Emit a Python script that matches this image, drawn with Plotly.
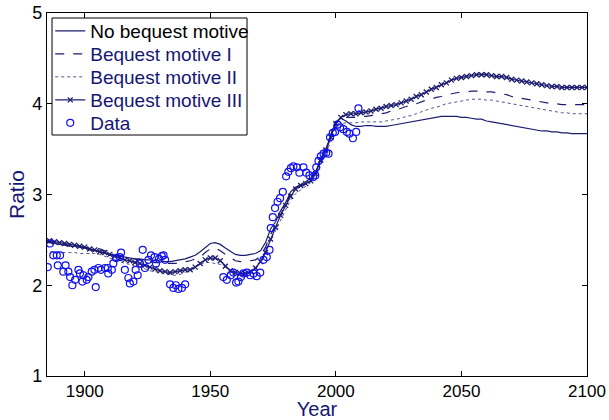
import plotly.graph_objects as go

# Model years (2-year steps)
years = list(range(1884, 2101, 2))

no_bequest = [2.47, 2.47, 2.46, 2.45, 2.44, 2.43, 2.43, 2.42, 2.41, 2.39,
              2.38, 2.37, 2.35, 2.34, 2.33, 2.32, 2.31, 2.30, 2.29, 2.29,
              2.28, 2.28, 2.27, 2.27, 2.26, 2.26, 2.27, 2.28, 2.29, 2.31,
              2.33, 2.37, 2.42, 2.46, 2.47, 2.45, 2.41, 2.37, 2.34, 2.33,
              2.33, 2.34, 2.35, 2.38, 2.47, 2.62, 2.70, 2.82, 2.91, 3.03,
              3.08, 3.11, 3.14, 3.18, 3.25, 3.40, 3.50, 3.65, 3.80, 3.84,
              3.81, 3.77, 3.75, 3.75, 3.76, 3.76, 3.75, 3.75, 3.75, 3.76,
              3.77, 3.78, 3.79, 3.80, 3.81, 3.82, 3.83, 3.84, 3.85, 3.86,
              3.86, 3.86, 3.86, 3.85, 3.85, 3.84, 3.83, 3.83, 3.81, 3.80,
              3.79, 3.78, 3.77, 3.76, 3.75, 3.74, 3.73, 3.72, 3.71, 3.70,
              3.70, 3.69, 3.69, 3.68, 3.68, 3.67, 3.67, 3.67, 3.67]

bequest_1 = [2.48, 2.48, 2.47, 2.46, 2.45, 2.44, 2.43, 2.42, 2.42, 2.41,
             2.41, 2.40, 2.38, 2.36, 2.34, 2.33, 2.31, 2.30, 2.29, 2.28,
             2.27, 2.26, 2.25, 2.25, 2.24, 2.24, 2.24, 2.25, 2.26, 2.27,
             2.29, 2.31, 2.36, 2.40, 2.41, 2.38, 2.34, 2.30, 2.27, 2.26,
             2.26, 2.27, 2.28, 2.32, 2.42, 2.56, 2.66, 2.78, 2.89, 3.00,
             3.06, 3.09, 3.12, 3.16, 3.24, 3.38, 3.48, 3.63, 3.78, 3.84,
             3.85, 3.85, 3.85, 3.86, 3.86, 3.87, 3.88, 3.89, 3.90, 3.92,
             3.93, 3.95, 3.97, 3.98, 4.00, 4.02, 4.04, 4.05, 4.07, 4.08,
             4.10, 4.11, 4.12, 4.13, 4.13, 4.14, 4.14, 4.14, 4.13, 4.13,
             4.12, 4.11, 4.10, 4.08, 4.07, 4.06, 4.05, 4.04, 4.03, 4.02,
             4.01, 4.00, 4.00, 3.99, 3.99, 3.99, 3.99, 3.99, 3.99]

bequest_2 = [2.37, 2.37, 2.37, 2.36, 2.36, 2.36, 2.36, 2.35, 2.35, 2.35,
             2.35, 2.34, 2.32, 2.30, 2.28, 2.26, 2.24, 2.23, 2.21, 2.20,
             2.18, 2.16, 2.15, 2.14, 2.13, 2.12, 2.11, 2.12, 2.14, 2.17,
             2.20, 2.23, 2.25, 2.25, 2.24, 2.23, 2.20, 2.15, 2.12, 2.11,
             2.12, 2.14, 2.17, 2.26, 2.38, 2.50, 2.60, 2.72, 2.83, 2.94,
             3.01, 3.05, 3.09, 3.13, 3.20, 3.33, 3.44, 3.58, 3.73, 3.78,
             3.79, 3.79, 3.79, 3.80, 3.80, 3.80, 3.80, 3.80, 3.81, 3.82,
             3.83, 3.84, 3.86, 3.87, 3.89, 3.91, 3.93, 3.95, 3.96, 3.98,
             4.00, 4.01, 4.02, 4.03, 4.04, 4.05, 4.05, 4.05, 4.04, 4.04,
             4.03, 4.02, 4.01, 4.00, 3.99, 3.98, 3.97, 3.96, 3.95, 3.94,
             3.93, 3.92, 3.91, 3.90, 3.90, 3.89, 3.89, 3.89, 3.89]

bequest_3 = [2.49, 2.49, 2.48, 2.47, 2.46, 2.45, 2.44, 2.43, 2.42, 2.40,
             2.39, 2.37, 2.36, 2.34, 2.32, 2.30, 2.28, 2.27, 2.25, 2.24,
             2.22, 2.20, 2.18, 2.16, 2.15, 2.14, 2.15, 2.16, 2.17, 2.17,
             2.20, 2.24, 2.28, 2.30, 2.30, 2.27, 2.21, 2.16, 2.14, 2.13,
             2.13, 2.15, 2.19, 2.26, 2.36, 2.51, 2.64, 2.77, 2.88, 2.98,
             3.06, 3.10, 3.12, 3.15, 3.23, 3.38, 3.49, 3.63, 3.78, 3.85,
             3.88, 3.89, 3.89, 3.90, 3.91, 3.92, 3.94, 3.95, 3.97, 3.98,
             3.99, 4.01, 4.03, 4.05, 4.08, 4.10, 4.13, 4.16, 4.18, 4.21,
             4.23, 4.26, 4.28, 4.29, 4.30, 4.31, 4.32, 4.32, 4.32, 4.31,
             4.30, 4.30, 4.29, 4.27, 4.26, 4.25, 4.24, 4.23, 4.22, 4.21,
             4.20, 4.19, 4.19, 4.18, 4.18, 4.18, 4.18, 4.18, 4.18]

data_years = [1885.3, 1886.2, 1887.5, 1888.9, 1889.3, 1890.2, 1891.5, 1892.4,
              1893.5, 1894.2, 1895.1, 1896.2, 1897.5, 1898.1, 1899.1, 1899.5,
              1900.8, 1901.5, 1902.8, 1903.9, 1904.4, 1905.5, 1906.5, 1908.1,
              1909.2, 1909.4, 1910.8, 1911.4, 1912.5, 1914.0, 1914.5, 1916.0,
              1917.4, 1918.0, 1919.4, 1920.3, 1921.1, 1922.0, 1923.1, 1924.0,
              1925.4, 1926.4, 1927.8, 1928.4, 1929.6, 1930.7, 1931.4, 1932.0,
              1934.0, 1935.3, 1936.3, 1937.3, 1938.7, 1940.0,
              1955.2, 1956.6, 1958.2, 1959.2, 1960.3, 1961.2, 1962.2, 1963.2,
              1964.6, 1965.9, 1967.2, 1968.5, 1969.9, 1971.2, 1972.5, 1973.6,
              1974.1, 1974.9, 1975.8, 1976.8, 1977.8, 1978.9, 1980.2, 1981.1,
              1982.1, 1983.1, 1984.5, 1985.5, 1987.1, 1988.2, 1989.5, 1990.9,
              1991.8, 1992.2, 1993.1, 1994.0, 1995.1, 1996.2, 1997.1, 1997.7,
              1998.8, 1999.7, 2000.7, 2001.7, 2003.0, 2004.4, 2005.4, 2006.8,
              2008.1, 2009.0]
data_values = [2.20, 2.46, 2.33, 2.33, 2.22, 2.33, 2.15, 2.22,
               2.15, 2.09, 2.00, 2.06, 2.17, 2.13, 2.04, 2.11,
               2.06, 2.09, 2.15, 2.17, 1.98, 2.19, 2.17, 2.19,
               2.19, 2.13, 2.17, 2.24, 2.30, 2.31, 2.36, 2.17,
               2.08, 2.02, 2.04, 2.17, 2.11, 2.24, 2.39, 2.19,
               2.28, 2.33, 2.31, 2.24, 2.29, 2.32, 2.33, 2.28,
               2.01, 1.97, 2.00, 1.96, 1.97, 2.01,
               2.09, 2.06, 2.11, 2.14, 2.03, 2.04, 2.09, 2.13,
               2.14, 2.11, 2.13, 2.10, 2.14, 2.28, 2.31, 2.39,
               2.63, 2.75, 2.85, 2.92, 2.96, 3.03, 3.20, 3.25,
               3.29, 3.31, 3.30, 3.24, 3.30, 3.24, 3.21, 3.19,
               3.21, 3.30, 3.37, 3.42, 3.45, 3.46, 3.45, 3.63,
               3.68, 3.69, 3.77, 3.74, 3.72, 3.69, 3.67, 3.62,
               3.69, 3.95]

series_names = ["No bequest motive", "Bequest motive I", "Bequest motive II",
                "Bequest motive III", "Data"]
x_ticks = [1900, 1950, 2000, 2050, 2100]
y_ticks = [1, 2, 3, 4, 5]

NAVY = "#161673"
LINE = "#1c1c6e"
FONT = "Liberation Sans, Arial, sans-serif"

fig = go.Figure()
fig.add_trace(go.Scatter(x=years, y=no_bequest, mode="lines",
                         name=series_names[0], legend="legend",
                         line=dict(color=LINE, width=1.2)))
fig.add_trace(go.Scatter(x=years, y=bequest_1, mode="lines",
                         name=series_names[1], legend="legend2",
                         line=dict(color=LINE, width=1.2, dash="dash")))
fig.add_trace(go.Scatter(x=years, y=bequest_2, mode="lines",
                         name=series_names[2], legend="legend3",
                         line=dict(color="#55558f", width=1, dash="dot")))
fig.add_trace(go.Scatter(x=years, y=bequest_3, mode="lines+markers",
                         name=series_names[3], legend="legend4",
                         line=dict(color=LINE, width=1.2),
                         marker=dict(symbol="x-thin", size=5, color=LINE,
                                     line=dict(color=LINE, width=1.3))))
fig.add_trace(go.Scatter(x=data_years, y=data_values, mode="markers",
                         name=series_names[4], legend="legend5",
                         marker=dict(symbol="circle-open", size=7, color="#1010f0",
                                     line=dict(width=1.2, color="#1010f0"))))

axis_common = dict(showgrid=False, zeroline=False, showline=True,
                   linecolor="black", linewidth=1.3, mirror="allticks",
                   ticks="inside", ticklen=5, tickcolor="black", tickwidth=1,
                   automargin=False)

fig.update_xaxes(range=[1885, 2100], tickvals=x_ticks, ticklabelstandoff=-1,
                 tickfont=dict(family=FONT, size=17, color="black"),
                 title=dict(text="Year", font=dict(family=FONT, size=20, color=NAVY),
                            standoff=5),
                 **axis_common)
fig.update_yaxes(range=[1, 5], tickvals=y_ticks,
                 tickfont=dict(family=FONT, size=18, color="black"),
                 title=dict(text="Ratio", font=dict(family=FONT, size=21, color=NAVY),
                            standoff=1),
                 **axis_common)

# plot area: x 47..587 px, y 13..376 px
leg_left = 0.006
item_y = [0.9504, 0.8871, 0.8237, 0.7603, 0.6970]
legend_layout = {}
for i, yy in enumerate(item_y):
    key = "legend" if i == 0 else f"legend{i+1}"
    legend_layout[key] = dict(
        x=leg_left, y=yy, xanchor="left", yanchor="middle",
        bgcolor="rgba(0,0,0,0)", borderwidth=0, itemwidth=30,
        font=dict(family=FONT, size=19, color="black" if i == 0 else NAVY),
    )

fig.update_layout(
    width=609, height=420,
    margin=dict(l=47, r=22, t=13, b=44, autoexpand=False),
    plot_bgcolor="white", paper_bgcolor="white",
    font=dict(family=FONT),
    showlegend=True,
    shapes=[dict(type="rect", xref="paper", yref="paper",
                 x0=0.0093, x1=0.3704, y0=0.6639, y1=0.9862,
                 line=dict(color="black", width=1), fillcolor="white",
                 layer="above")],
    **legend_layout,
)

fig.write_html("out.html")
